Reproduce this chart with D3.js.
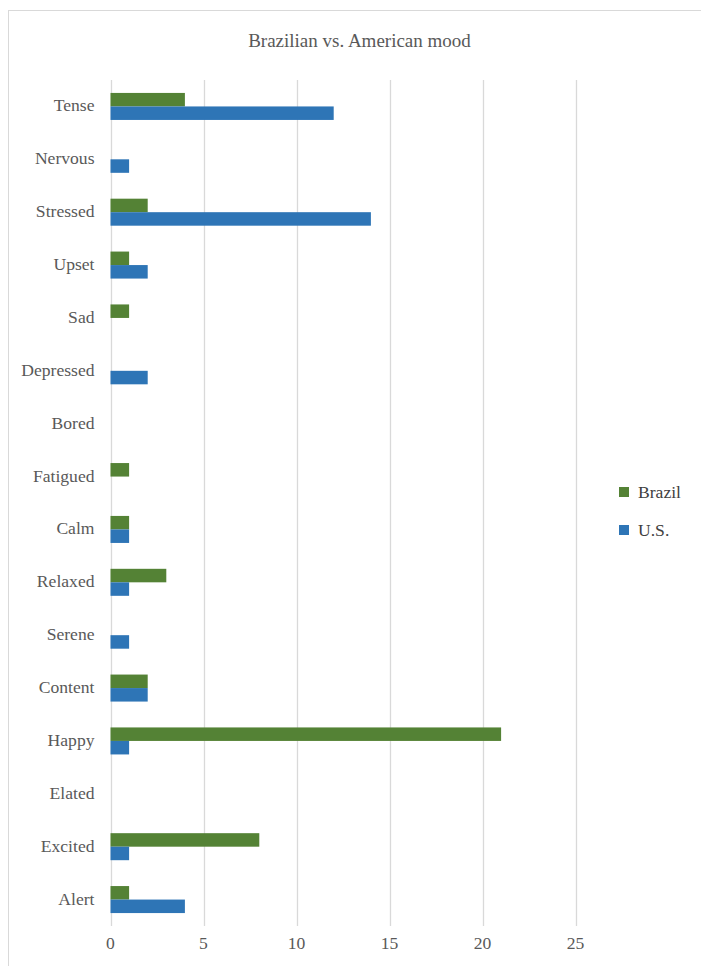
<!DOCTYPE html>
<html><head><meta charset="utf-8">
<script src="https://cdn.jsdelivr.net/npm/d3@7"></script>
</head><body style="margin:0">
<script>
const categories = ["Tense","Nervous","Stressed","Upset","Sad","Depressed","Bored","Fatigued","Calm","Relaxed","Serene","Content","Happy","Elated","Excited","Alert"];
const brazil = [4,0,2,1,1,0,0,1,1,3,0,2,21,0,8,1];
const us     = [12,1,14,2,0,2,0,0,1,1,1,2,1,0,1,4];
const seriesNames = ["Brazil","U.S."];
const colors = ["#548235","#2E75B6"];
const ticks = [0,5,10,15,20,25];
const title = "Brazilian vs. American mood";

const W=701,H=966;
const FONT="'Liberation Serif', 'Times New Roman', serif";
const svg=d3.select("body").append("svg").attr("width",W).attr("height",H).style("display","block");
svg.append("rect").attr("x",8.5).attr("y",10.5).attr("width",W+20).attr("height",H+20)
  .attr("fill","#fff").attr("stroke","#d9d9d9").attr("stroke-width",1);

const x=d3.scaleLinear().domain([0,25]).range([110.5,575.5]);
const y=d3.scaleBand().domain(categories).range([80,926]).paddingInner(0).paddingOuter(0);
const sub=d3.scaleBand().domain(seriesNames).range([0,y.bandwidth()]).paddingInner(0).paddingOuter(0.958);

svg.append("text").attr("x",359.5).attr("y",46.7).attr("text-anchor","middle")
  .style("font-family",FONT).style("font-size","19px").attr("fill","#595959").text(title);

const g=svg.append("g");
g.selectAll("line.grid").data(ticks).join("line").attr("class","grid")
  .attr("x1",d=>Math.round(x(d))+0.5).attr("x2",d=>Math.round(x(d))+0.5)
  .attr("y1",80).attr("y2",926).attr("stroke","#d9d9d9").attr("stroke-width",1.3);

const data=[brazil,us];
data.forEach((vals,si)=>{
  g.selectAll("rect.s"+si).data(categories.map((c,i)=>({c,v:vals[i]})).filter(d=>d.v>0))
    .join("rect").attr("class","s"+si)
    .attr("x",x(0)).attr("y",d=>y(d.c)+sub(seriesNames[si]))
    .attr("width",d=>x(d.v)-x(0)).attr("height",sub.bandwidth())
    .attr("fill",colors[si]);
});

g.selectAll("text.cat").data(categories).join("text").attr("class","cat")
  .attr("x",94.5).attr("y",d=>y(d)+y.bandwidth()/2+5)
  .attr("text-anchor","end").style("font-family",FONT).style("font-size","17.6px").attr("fill","#595959").text(d=>d);

g.selectAll("text.tick").data(ticks).join("text").attr("class","tick")
  .attr("x",d=>x(d)).attr("y",949)
  .attr("text-anchor","middle").style("font-family",FONT).style("font-size","17.6px").attr("fill","#595959").text(d=>d);

const leg=svg.append("g");
seriesNames.forEach((n,i)=>{
  const ly=492+i*38;
  leg.append("rect").attr("x",619).attr("y",ly-5).attr("width",10).attr("height",10).attr("fill",colors[i]);
  leg.append("text").attr("x",638).attr("y",ly+5.5)
    .style("font-family",FONT).style("font-size","17.6px").attr("fill","#404040").text(n);
});
</script>
</body></html>
